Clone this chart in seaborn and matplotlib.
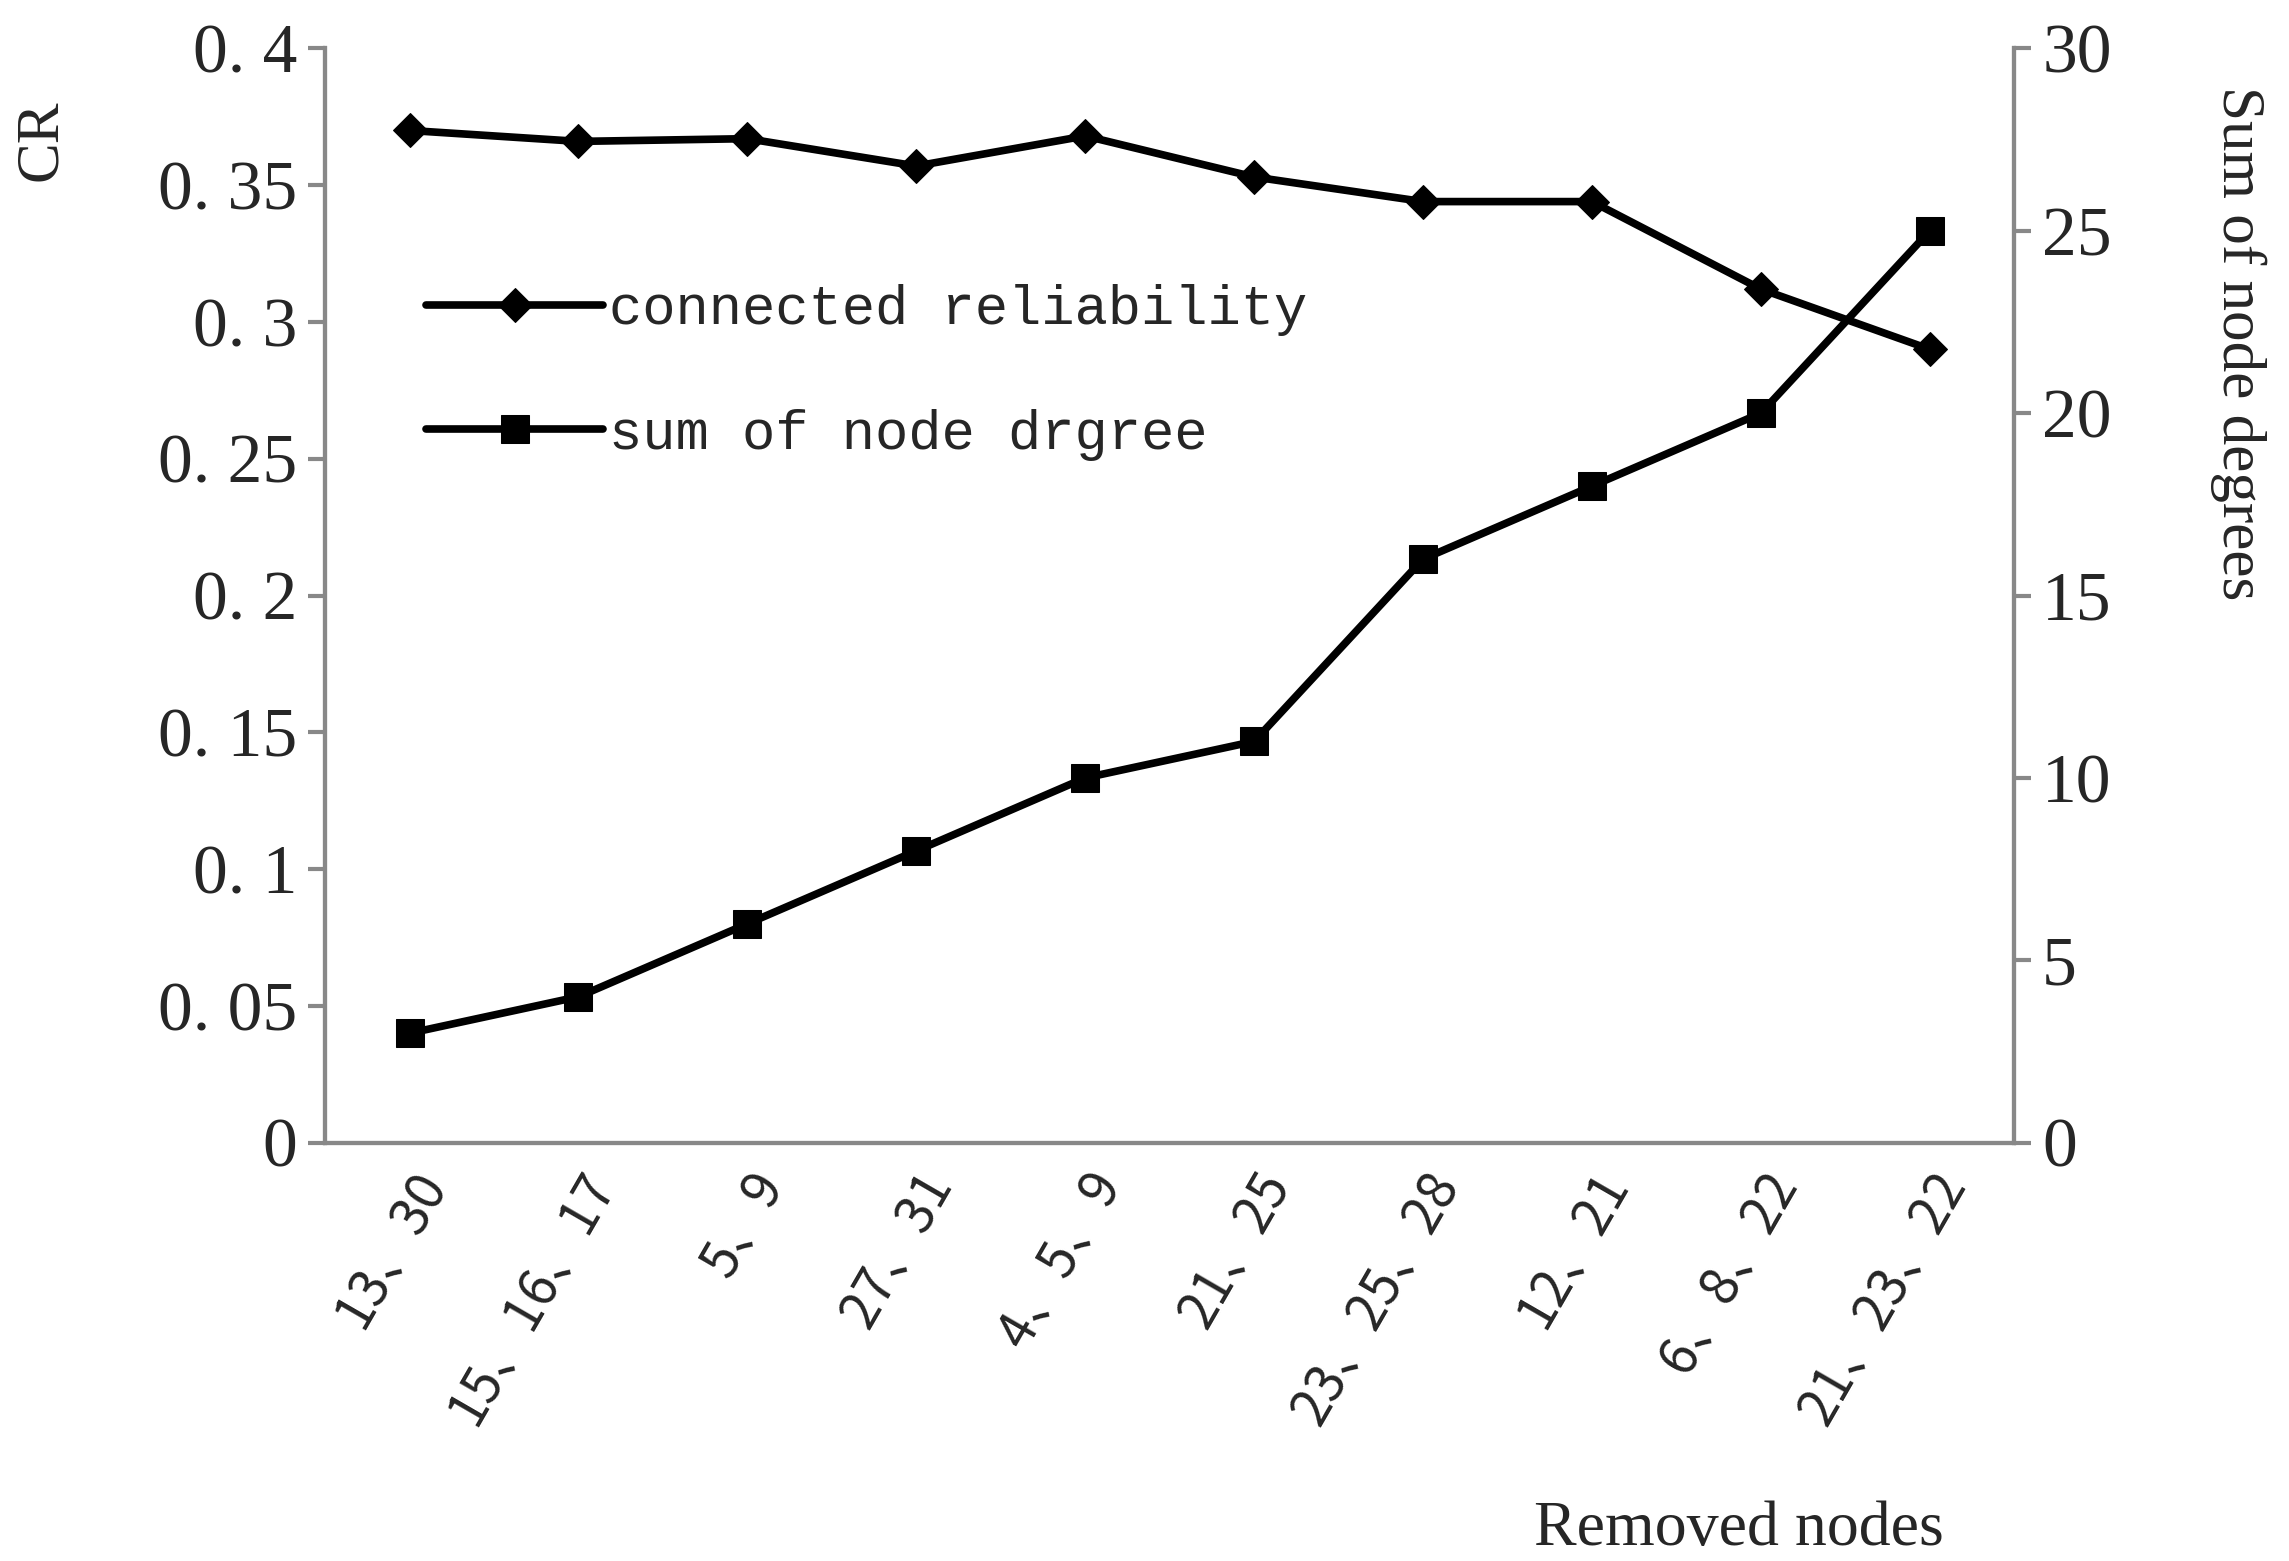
import matplotlib
matplotlib.use("Agg")
import matplotlib.pyplot as plt
import seaborn as sns
import pandas as pd

labels = ["13、30", "15、16、17", "5、9", "27、31", "4、5、9", "21、25",
          "23、25、28", "12、21", "6、8、22", "21、23、22"]
cr = [0.370, 0.366, 0.367, 0.357, 0.368, 0.353, 0.344, 0.344, 0.312, 0.290]
deg = [3, 4, 6, 8, 10, 11, 16, 18, 20, 25]

sns.set_theme(style="white")
plt.rcParams['font.family'] = ['Liberation Serif', 'Noto Sans CJK SC', 'DejaVu Sans']

df = pd.DataFrame({"x": range(len(labels)), "cr": cr, "deg": deg})
fig = plt.figure(figsize=(22.89, 15.61), dpi=100)
ax = fig.add_axes([0.142, 0.268, 0.738, 0.701])
ax2 = ax.twinx()

sns.lineplot(data=df, x="x", y="cr", ax=ax, color="black", lw=5.5, marker="D",
             markersize=17, markeredgecolor="black", label="connected reliability", legend=False)
sns.lineplot(data=df, x="x", y="deg", ax=ax2, color="black", lw=5.5, marker="s",
             markersize=20, markeredgecolor="black", label="sum of node drgree", legend=False)

ax.set_xlim(-0.5, 9.5)
ax.set_ylim(0, 0.4)
ax2.set_ylim(0, 30)
ax.set_yticks([0, 0.05, 0.1, 0.15, 0.2, 0.25, 0.3, 0.35, 0.4])
ax.set_yticklabels(["0", "0. 05", "0. 1", "0. 15", "0. 2", "0. 25", "0. 3", "0. 35", "0. 4"],
                   fontsize=50)
ax2.set_yticks([0, 5, 10, 15, 20, 25, 30])
ax2.set_yticklabels(["0", "5", "10", "15", "20", "25", "30"], fontsize=50)
ax.set_xticks(range(len(labels)))
ax.set_xticklabels(labels, rotation=60, ha="right", rotation_mode="anchor", fontsize=38,
                   family=['Noto Sans CJK SC', 'DejaVu Sans'])
ax.set_xlabel("")
ax.set_ylabel("")
ax2.set_ylabel("")
for a in (ax, ax2):
    for s in a.spines.values():
        s.set_color("#888888"); s.set_linewidth(3)
    a.spines["top"].set_visible(False)
ax.tick_params(axis="y", length=12, width=3, color="#888888", direction="out", left=True, pad=8)
ax2.tick_params(axis="y", length=12, width=3, color="#888888", direction="out", right=True, pad=8)
ax.tick_params(axis="x", length=0, pad=14)

fig.text(0.018, 0.91, "CR", rotation=90, fontsize=44, va="center", ha="center")
fig.text(0.978, 0.78, "Sum of node degrees", rotation=270, fontsize=44, va="center", ha="center")
fig.text(0.67, 0.01, "Removed nodes", fontsize=46)

h1, l1 = ax.get_legend_handles_labels()
h2, l2 = ax2.get_legend_handles_labels()
ax.legend(h1 + h2, l1 + l2, loc="upper left", bbox_to_anchor=(0.03, 0.83), frameon=False,
          prop={"family": "Liberation Mono", "size": 40}, handlelength=3.2, labelspacing=1.3,
          handletextpad=0.1)
fig.savefig("out.png", dpi=100)
